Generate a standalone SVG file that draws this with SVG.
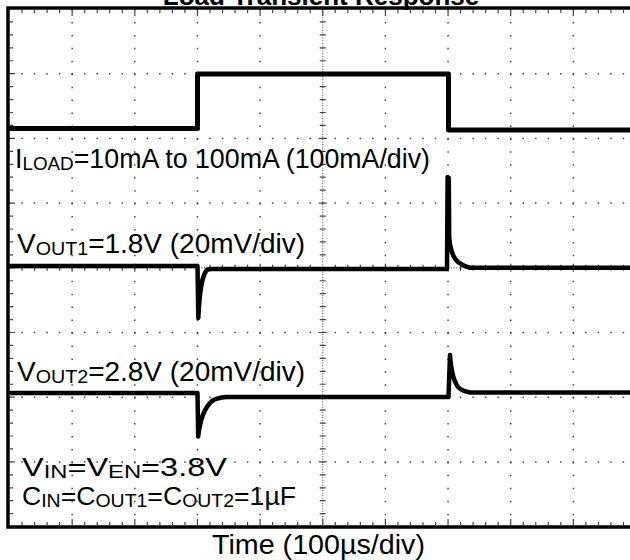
<svg xmlns="http://www.w3.org/2000/svg" width="630" height="560" viewBox="0 0 630 560">
<style>
.lbl{font-family:"Liberation Sans",Arial,sans-serif;font-size:27px;fill:#000}
.sm{font-size:26px}
.sub{font-size:19px}
.title{font-family:"Liberation Sans",Arial,sans-serif;font-size:26px;font-weight:bold;fill:#000}
.gv{stroke:#444;stroke-width:1.5;stroke-dasharray:1.5 11.44;fill:none}
.gh{stroke:#444;stroke-width:1.5;stroke-dasharray:1.5 11.03;fill:none}
.cl{stroke:#444;stroke-width:1;stroke-dasharray:1 1.6;fill:none}
.tk{stroke:#444;stroke-width:1.2;fill:none}
.tr{stroke:#000;fill:none;stroke-linejoin:round;stroke-linecap:butt}
</style>
<rect width="630" height="560" fill="#fff"/>
<text class="title" x="321" y="5" text-anchor="middle">Load Transient Response</text>
<g id="grid">
<path class="gv" d="M72.15,9V527M134.8,9V527M197.45,9V527M260.1,9V527M385.4,9V527M448.05,9V527M510.7,9V527M573.35,9V527"/>
<path class="gh" d="M8.75,73.7H630M8.75,138.4H630M8.75,203.1H630M8.75,332.5H630M8.75,397.2H630M8.75,461.9H630"/>
<path class="cl" d="M322.75,9V527M9,267.8H630"/>
<path class="tk" d="M319.75,21.94H325.75M319.75,34.88H325.75M319.75,47.82H325.75M319.75,60.76H325.75M318.75,73.7H326.75M319.75,86.64H325.75M319.75,99.58H325.75M319.75,112.52H325.75M319.75,125.46H325.75M318.75,138.4H326.75M319.75,151.34H325.75M319.75,164.28H325.75M319.75,177.22H325.75M319.75,190.16H325.75M318.75,203.1H326.75M319.75,216.04H325.75M319.75,228.98H325.75M319.75,241.92H325.75M319.75,254.86H325.75M319.75,280.74H325.75M319.75,293.68H325.75M319.75,306.62H325.75M319.75,319.56H325.75M318.75,332.5H326.75M319.75,345.44H325.75M319.75,358.38H325.75M319.75,371.32H325.75M319.75,384.26H325.75M318.75,397.2H326.75M319.75,410.14H325.75M319.75,423.08H325.75M319.75,436.02H325.75M319.75,448.96H325.75M318.75,461.9H326.75M319.75,474.84H325.75M319.75,487.78H325.75M319.75,500.72H325.75M319.75,513.66H325.75"/>
<path class="tk" d="M22.03,264.8v6M34.56,264.8v6M47.09,264.8v6M59.62,264.8v6M72.15,263.8v8M84.68,264.8v6M97.21,264.8v6M109.74,264.8v6M122.27,264.8v6M134.8,263.8v8M147.33,264.8v6M159.86,264.8v6M172.39,264.8v6M184.92,264.8v6M197.45,263.8v8M209.98,264.8v6M222.51,264.8v6M235.04,264.8v6M247.57,264.8v6M260.1,263.8v8M272.63,264.8v6M285.16,264.8v6M297.69,264.8v6M310.22,264.8v6M335.28,264.8v6M347.81,264.8v6M360.34,264.8v6M372.87,264.8v6M385.4,263.8v8M397.93,264.8v6M410.46,264.8v6M422.99,264.8v6M435.52,264.8v6M448.05,263.8v8M460.58,264.8v6M473.11,264.8v6M485.64,264.8v6M498.17,264.8v6M510.7,263.8v8M523.23,264.8v6M535.76,264.8v6M548.29,264.8v6M560.82,264.8v6M573.35,263.8v8M585.88,264.8v6M598.41,264.8v6M610.94,264.8v6M623.47,264.8v6"/>
<path class="tk" d="M22.03,10v3M34.56,10v3M47.09,10v3M59.62,10v3M72.15,10v6M84.68,10v3M97.21,10v3M109.74,10v3M122.27,10v3M134.8,10v6M147.33,10v3M159.86,10v3M172.39,10v3M184.92,10v3M197.45,10v6M209.98,10v3M222.51,10v3M235.04,10v3M247.57,10v3M260.1,10v6M272.63,10v3M285.16,10v3M297.69,10v3M310.22,10v3M322.75,10v6M335.28,10v3M347.81,10v3M360.34,10v3M372.87,10v3M385.4,10v6M397.93,10v3M410.46,10v3M422.99,10v3M435.52,10v3M448.05,10v6M460.58,10v3M473.11,10v3M485.64,10v3M498.17,10v3M510.7,10v6M523.23,10v3M535.76,10v3M548.29,10v3M560.82,10v3M573.35,10v6M585.88,10v3M598.41,10v3M610.94,10v3M623.47,10v3"/>
<path class="tk" d="M22.03,525v-3M34.56,525v-3M47.09,525v-3M59.62,525v-3M72.15,525v-6M84.68,525v-3M97.21,525v-3M109.74,525v-3M122.27,525v-3M134.8,525v-6M147.33,525v-3M159.86,525v-3M172.39,525v-3M184.92,525v-3M197.45,525v-6M209.98,525v-3M222.51,525v-3M235.04,525v-3M247.57,525v-3M260.1,525v-6M272.63,525v-3M285.16,525v-3M297.69,525v-3M310.22,525v-3M322.75,525v-6M335.28,525v-3M347.81,525v-3M360.34,525v-3M372.87,525v-3M385.4,525v-6M397.93,525v-3M410.46,525v-3M422.99,525v-3M435.52,525v-3M448.05,525v-6M460.58,525v-3M473.11,525v-3M485.64,525v-3M498.17,525v-3M510.7,525v-6M523.23,525v-3M535.76,525v-3M548.29,525v-3M560.82,525v-3M573.35,525v-6M585.88,525v-3M598.41,525v-3M610.94,525v-3M623.47,525v-3"/>
<path class="tk" d="M10,21.94h3M10,34.88h3M10,47.82h3M10,60.76h3M10,73.7h5M10,86.64h3M10,99.58h3M10,112.52h3M10,125.46h3M10,138.4h5M10,151.34h3M10,164.28h3M10,177.22h3M10,190.16h3M10,203.1h5M10,216.04h3M10,228.98h3M10,241.92h3M10,254.86h3M10,267.8h5M10,280.74h3M10,293.68h3M10,306.62h3M10,319.56h3M10,332.5h5M10,345.44h3M10,358.38h3M10,371.32h3M10,384.26h3M10,397.2h5M10,410.14h3M10,423.08h3M10,436.02h3M10,448.96h3M10,461.9h5M10,474.84h3M10,487.78h3M10,500.72h3M10,513.66h3"/>
</g>
<path id="frame" d="M632,8H8V527H632" fill="none" stroke="#000" stroke-width="3.5"/>
<g id="traces">
<path id="iload" class="tr" stroke-width="5" d="M8,128.5H197.5V74H448.5V130H632"/>
<path id="vout1" class="tr" stroke-width="4.5" d="M8,266H197.5L198.3,318C199.5,292 201.5,276 207,269.8L211,269H447L447.6,177L448.8,178L449.2,238C450.5,251 453,258 458,262C461,264 464,266.5 470,267.8H632"/>
<path id="vout2" class="tr" stroke-width="4.5" d="M8,393H197.5L198.2,436.5C200,420 204,408 212,401C216,398.5 220,397.5 226,397H448.5L450,355C451,370 453,380 458,387C461,390 464,391.5 470,392.5H632"/>
</g>
<g id="labels">
<text class="lbl" x="15" y="168" textLength="415" lengthAdjust="spacingAndGlyphs">I<tspan class="sub" dy="1.5">LOAD</tspan><tspan dy="-1.5">=10mA to 100mA (100mA/div)</tspan></text>
<text class="lbl" x="17" y="253" textLength="288" lengthAdjust="spacingAndGlyphs">V<tspan class="sub" dy="1.5">OUT1</tspan><tspan dy="-1.5">=1.8V (20mV/div)</tspan></text>
<text class="lbl" x="17" y="381" textLength="288" lengthAdjust="spacingAndGlyphs">V<tspan class="sub" dy="1.5">OUT2</tspan><tspan dy="-1.5">=2.8V (20mV/div)</tspan></text>
<text class="lbl sm" x="22" y="476" textLength="205" lengthAdjust="spacingAndGlyphs">V<tspan class="sub" dy="1.5">IN</tspan><tspan dy="-1.5">=V</tspan><tspan class="sub" dy="1.5">EN</tspan><tspan dy="-1.5">=3.8V</tspan></text>
<text class="lbl sm" x="22" y="505" textLength="274" lengthAdjust="spacingAndGlyphs">C<tspan class="sub" dy="1.5">IN</tspan><tspan dy="-1.5">=C</tspan><tspan class="sub" dy="1.5">OUT1</tspan><tspan dy="-1.5">=C</tspan><tspan class="sub" dy="1.5">OUT2</tspan><tspan dy="-1.5">=1µF</tspan></text>
<text class="lbl" x="212" y="554" textLength="213" lengthAdjust="spacingAndGlyphs">Time (100µs/div)</text>
</g>
</svg>
